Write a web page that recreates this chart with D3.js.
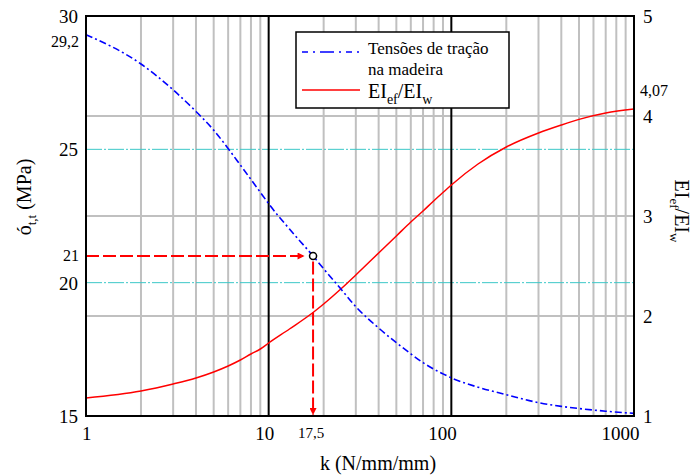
<!DOCTYPE html>
<html>
<head>
<meta charset="utf-8">
<script src="https://cdn.jsdelivr.net/npm/d3@7"></script>
<style>
  body { margin: 0; background: #fff; }
  svg, svg text { font-family: "Liberation Serif", Tinos, "Times New Roman", "DejaVu Serif", serif; }
</style>
</head>
<body>
<div id="chart"></div>
<script>
// ---- data ----
const kValues = [1, 2, 3, 4, 5, 6, 7, 8, 9, 10, 13, 17.5, 20, 25, 30, 40, 50, 60, 70, 80, 90, 100, 140, 200, 300, 400, 500, 700, 1000];
const sigmaValues = [29.3, 28.2, 27.23, 26.42, 25.72, 25.03, 24.41, 23.87, 23.39, 22.96, 22.01, 21.0, 20.52, 19.74, 19.1, 18.3, 17.75, 17.33, 17.0, 16.76, 16.58, 16.43, 16.08, 15.8, 15.5, 15.36, 15.28, 15.18, 15.1];
const ratioValues = [1.18, 1.25, 1.32, 1.38, 1.44, 1.50, 1.56, 1.62, 1.67, 1.73, 1.87, 2.035, 2.12, 2.275, 2.41, 2.63, 2.80, 2.94, 3.05, 3.15, 3.235, 3.31, 3.52, 3.69, 3.83, 3.91, 3.966, 4.03, 4.07];

const xTicks = [1, 10, 100, 1000];
const xTickLabels = ["1", "10", "100", "1000"];
const leftTicks = [15, 20, 25, 30];
const leftTickLabels = ["15", "20", "25", "30"];
const leftSpecial = [29.2, 21];
const leftSpecialLabels = ["29,2", "21"];
const rightTicks = [1, 2, 3, 4, 5];
const rightTickLabels = ["1", "2", "3", "4", "5"];
const rightSpecial = [4.07];
const rightSpecialLabels = ["4,07"];
const cyanLevels = [20, 25];      // left axis reference lines
const majorX = [10, 100];         // dark vertical lines
const annotK = 17.5, annotKLabel = "17,5";
const annotSigma = 21;

// ---- layout ----
const W = 693, H = 476;
const L = 86, R = 634, T = 16, B = 416;
const FONT = "'Liberation Serif', Tinos, 'Times New Roman', 'DejaVu Serif', serif";

const svg = d3.select("#chart").append("svg").attr("width", W).attr("height", H)
  .attr("font-family", FONT);
const x = d3.scaleLog().domain([1, 1000]).range([L, R]);
const yL = d3.scaleLinear().domain([15, 30]).range([B, T]);
const yR = d3.scaleLinear().domain([1, 5]).range([B, T]);

// defs: arrowhead
svg.append("defs").append("marker")
  .attr("id", "arr").attr("viewBox", "0 0 10 10").attr("refX", 10).attr("refY", 5)
  .attr("markerWidth", 9).attr("markerHeight", 7).attr("markerUnits", "userSpaceOnUse")
  .attr("orient", "auto")
  .append("path").attr("d", "M0,0 L10,5 L0,10 Z").attr("fill", "#ff0000");

// minor vertical grid
const minor = [];
for (let d = 1; d < 1000; d *= 10) for (let m = 2; m <= 9; m++) minor.push(d * m);
svg.append("g").selectAll("line").data(minor).join("line")
  .attr("x1", d => x(d)).attr("x2", d => x(d)).attr("y1", T).attr("y2", B)
  .attr("stroke", "#c0c0c0").attr("stroke-width", 2);

// horizontal grid at right-axis ticks
svg.append("g").selectAll("line").data(rightTicks.filter(v => v > 1 && v < 5)).join("line")
  .attr("x1", L).attr("x2", R).attr("y1", d => yR(d)).attr("y2", d => yR(d))
  .attr("stroke", "#c0c0c0").attr("stroke-width", 2);

// cyan reference lines
svg.append("g").selectAll("line").data(cyanLevels).join("line")
  .attr("x1", L).attr("x2", R).attr("y1", d => yL(d)).attr("y2", d => yL(d))
  .attr("stroke", "#3cc8c8").attr("stroke-width", 1).attr("stroke-dasharray", "16,2,2,2");

// major vertical lines
svg.append("g").selectAll("line").data(majorX).join("line")
  .attr("x1", d => x(d)).attr("x2", d => x(d)).attr("y1", T).attr("y2", B)
  .attr("stroke", "#000").attr("stroke-width", 2);

// curves
const pts = kValues.map((k, i) => ({ k, s: sigmaValues[i], r: ratioValues[i] }));
svg.append("path").datum(pts)
  .attr("d", d3.line().x(d => x(d.k)).y(d => yR(d.r)).curve(d3.curveMonotoneX))
  .attr("fill", "none").attr("stroke", "#ff0000").attr("stroke-width", 1.5);
svg.append("path").datum(pts)
  .attr("d", d3.line().x(d => x(d.k)).y(d => yL(d.s)).curve(d3.curveMonotoneX))
  .attr("fill", "none").attr("stroke", "#0000ff").attr("stroke-width", 1.6)
  .attr("stroke-dasharray", "7,3,2,3");

// annotation
const cx = x(annotK), cy = yL(annotSigma), cr = 3.5;
svg.append("line").attr("x1", L).attr("x2", cx - cr - 5).attr("y1", cy).attr("y2", cy)
  .attr("stroke", "#ff0000").attr("stroke-width", 2).attr("stroke-dasharray", "13,4")
  .attr("marker-end", "url(#arr)");
svg.append("line").attr("x1", cx).attr("x2", cx).attr("y1", cy + cr + 2).attr("y2", B - 1)
  .attr("stroke", "#ff0000").attr("stroke-width", 2).attr("stroke-dasharray", "13,4")
  .attr("marker-end", "url(#arr)");
svg.append("circle").attr("cx", cx).attr("cy", cy).attr("r", cr)
  .attr("fill", "#fff").attr("stroke", "#000").attr("stroke-width", 1.5);

// frame
svg.append("rect").attr("x", L).attr("y", T).attr("width", R - L).attr("height", B - T)
  .attr("fill", "none").attr("stroke", "#000").attr("stroke-width", 2);

// axes
const axB = svg.append("g").attr("transform", `translate(0,${B})`)
  .call(d3.axisBottom(x).tickValues(xTicks).tickFormat((d, i) => xTickLabels[i]).tickSize(0).tickPadding(0));
axB.attr("font-family", FONT);
axB.select(".domain").remove();
axB.selectAll("text").attr("font-size", 19)
  .attr("fill", "#000").attr("text-anchor", "end").attr("dx", 5).attr("y", 24).attr("dy", 0);

const axL = svg.append("g").attr("transform", `translate(${L},0)`)
  .call(d3.axisLeft(yL).tickValues(leftTicks).tickFormat((d, i) => leftTickLabels[i]).tickSize(0).tickPadding(8));
axL.attr("font-family", FONT);
axL.select(".domain").remove();
axL.selectAll("text").attr("font-size", 19).attr("fill", "#000").attr("dy", "0.34em");

const axR = svg.append("g").attr("transform", `translate(${R},0)`)
  .call(d3.axisRight(yR).tickValues(rightTicks).tickFormat((d, i) => rightTickLabels[i]).tickSize(0).tickPadding(9));
axR.attr("font-family", FONT);
axR.select(".domain").remove();
axR.selectAll("text").attr("font-size", 19).attr("fill", "#000").attr("dy", "0.34em");

// special labels
svg.append("g").selectAll("text").data(leftSpecial).join("text")
  .attr("x", L - 7).attr("y", (d, i) => yL(d) + (i === 0 ? 4 : 0)).attr("dy", "0.34em")
  .attr("text-anchor", "end").attr("font-size", 16).text((d, i) => leftSpecialLabels[i]);
svg.append("g").selectAll("text").data(rightSpecial).join("text")
  .attr("x", R + 6).attr("y", d => yR(d) - 18).attr("dy", "0.34em")
  .attr("text-anchor", "start").attr("font-size", 16).text((d, i) => rightSpecialLabels[i]);
svg.append("text").attr("x", cx - 2).attr("y", B + 22).attr("text-anchor", "middle")
  .attr("font-size", 15).text(annotKLabel);

// titles
svg.append("text").attr("x", 378).attr("y", 470).attr("text-anchor", "middle").attr("font-size", 20)
  .text("k (N/mm/mm)");
const lt = svg.append("text").attr("transform", "translate(31,197) rotate(-90)")
  .attr("text-anchor", "middle").attr("font-size", 20);
lt.append("tspan").text("ó");
lt.append("tspan").attr("font-size", 13).attr("dy", 5).text("t,t");
lt.append("tspan").attr("dy", -5).text(" (MPa)");
const rt = svg.append("text").attr("transform", "translate(675,211) rotate(90)")
  .attr("text-anchor", "middle").attr("font-size", 20);
rt.append("tspan").text("EI");
rt.append("tspan").attr("font-size", 13).attr("dy", 5).text("ef");
rt.append("tspan").attr("dy", -5).text("/EI");
rt.append("tspan").attr("font-size", 13).attr("dy", 5).text("w");

// legend
const lg = svg.append("g");
lg.append("rect").attr("x", 296).attr("y", 32).attr("width", 213).attr("height", 76)
  .attr("fill", "#fff").attr("stroke", "#000").attr("stroke-width", 1.5);
lg.append("line").attr("x1", 302).attr("x2", 360).attr("y1", 52).attr("y2", 52)
  .attr("stroke", "#0000ff").attr("stroke-width", 1.6).attr("stroke-dasharray", "6,5,2,5,14,5,2,5");
lg.append("line").attr("x1", 302).attr("x2", 360).attr("y1", 90).attr("y2", 90)
  .attr("stroke", "#ff0000").attr("stroke-width", 1.5);
lg.append("text").attr("x", 368).attr("y", 54).attr("font-size", 17).text("Tensões de tração");
lg.append("text").attr("x", 368).attr("y", 75).attr("font-size", 17).text("na madeira");
const le = lg.append("text").attr("x", 368).attr("y", 98).attr("font-size", 20);
le.append("tspan").text("EI");
le.append("tspan").attr("font-size", 14).attr("dy", 6).text("ef");
le.append("tspan").attr("dy", -6).text("/EI");
le.append("tspan").attr("font-size", 14).attr("dy", 6).text("w");
</script>
</body>
</html>
